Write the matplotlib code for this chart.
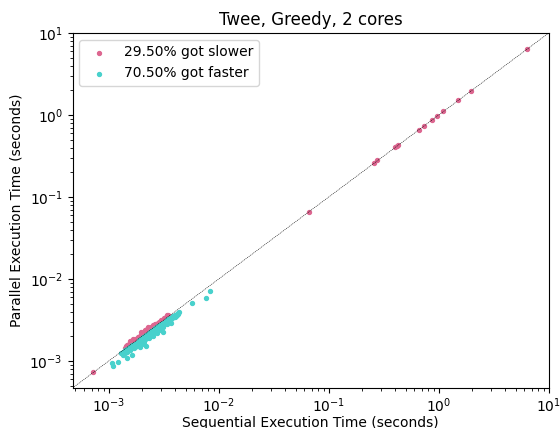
import numpy as np
import matplotlib
matplotlib.use("Agg")
import matplotlib.pyplot as plt

# execution times in milliseconds (sequential, parallel)
faster_seq_ms = [
    1.07, 1.09, 1.23, 1.46, 1.62, 2.20, 3.10, 3.70, 5.70, 7.60, 8.40,
    1.30, 1.35, 1.38, 1.40, 1.42, 1.45, 1.47, 1.50, 1.52, 1.55, 1.55, 1.58,
    1.60, 1.62, 1.65, 1.67, 1.70, 1.70, 1.72, 1.75, 1.78, 1.80, 1.82, 1.85,
    1.85, 1.88, 1.90, 1.92, 1.95, 1.97, 2.00, 2.00, 2.03, 2.05, 2.08, 2.10,
    2.12, 2.15, 2.15, 2.18, 2.20, 2.22, 2.25, 2.28, 2.30, 2.30, 2.33, 2.35,
    2.38, 2.40, 2.40, 2.43, 2.45, 2.48, 2.50, 2.50, 2.53, 2.55, 2.58, 2.60,
    2.62, 2.65, 2.68, 2.70, 2.72, 2.75, 2.78, 2.80, 2.82, 2.85, 2.88, 2.90,
    2.92, 2.95, 2.98, 3.00, 3.03, 3.05, 3.08, 3.10, 3.12, 3.15, 3.18, 3.20,
    3.25, 3.28, 3.30, 3.35, 3.38, 3.40, 3.45, 3.48, 3.50, 3.55, 3.58, 3.62,
    3.65, 3.70, 3.75, 3.80, 3.85, 3.90, 3.95, 4.00, 4.05, 4.10, 4.15, 4.20,
    4.25, 4.30, 4.35, 1.48, 1.58, 1.68, 1.75, 1.88, 1.98, 2.10, 2.35, 2.55,
    2.75, 3.00, 3.40, 2.08, 1.92, 1.35, 1.42,
]
faster_par_ms = [
    0.95, 0.87, 0.97, 1.09, 1.18, 1.52, 2.25, 2.90, 5.10, 5.90, 7.10,
    1.25, 1.28, 1.30, 1.36, 1.33, 1.38, 1.42, 1.40, 1.45, 1.48, 1.38, 1.50,
    1.44, 1.55, 1.52, 1.58, 1.55, 1.45, 1.62, 1.60, 1.52, 1.68, 1.63, 1.72,
    1.58, 1.70, 1.80, 1.66, 1.84, 1.75, 1.90, 1.70, 1.82, 1.95, 1.78, 1.98,
    1.88, 2.02, 1.85, 1.95, 2.08, 1.90, 2.10, 2.00, 2.15, 1.95, 2.05, 2.22,
    2.12, 2.25, 2.05, 2.18, 2.30, 2.20, 2.35, 2.12, 2.28, 2.40, 2.25, 2.45,
    2.32, 2.50, 2.38, 2.55, 2.42, 2.30, 2.60, 2.48, 2.65, 2.55, 2.40, 2.70,
    2.60, 2.75, 2.52, 2.80, 2.68, 2.85, 2.72, 2.58, 2.90, 2.78, 2.95, 2.82,
    3.00, 2.88, 3.05, 2.95, 3.15, 3.02, 3.20, 3.08, 3.25, 3.12, 3.30, 3.20,
    3.38, 3.25, 3.45, 3.32, 3.50, 3.40, 3.58, 3.48, 3.65, 3.55, 3.72, 3.60,
    3.85, 3.75, 3.95, 1.30, 1.35, 1.50, 1.48, 1.60, 1.62, 1.75, 1.90, 2.05,
    2.20, 2.45, 2.80, 1.60, 1.50, 1.20, 1.25,
]

slower_seq_ms = [
    0.72, 1.40, 1.45, 1.48, 1.52, 1.55, 1.58, 1.62, 1.65, 1.70, 1.75, 1.80,
    1.85, 1.88, 1.92, 1.95, 2.00, 2.05, 2.10, 2.15, 2.20, 2.25, 2.30, 2.35,
    2.40, 2.45, 2.50, 2.55, 2.60, 2.65, 2.70, 2.75, 2.80, 2.90, 3.00, 3.10,
    3.20, 3.30, 3.40, 3.50, 1.68, 1.98, 2.28, 1.58, 2.12,
    66.0, 257.0, 277.0, 400.0, 415.0, 430.0, 660.0, 730.0, 870.0, 960.0,
    1100.0, 1500.0, 1950.0, 6400.0,
]
slower_par_ms = [
    0.73, 1.45, 1.52, 1.58, 1.60, 1.65, 1.62, 1.72, 1.70, 1.80, 1.85, 1.88,
    1.98, 1.95, 2.05, 2.10, 2.08, 2.20, 2.18, 2.30, 2.28, 2.45, 2.40, 2.55,
    2.50, 2.62, 2.58, 2.75, 2.70, 2.80, 2.85, 2.82, 2.95, 3.00, 3.15, 3.20,
    3.35, 3.45, 3.60, 3.62, 1.88, 2.25, 2.60, 1.75, 2.40,
    66.5, 259.0, 279.0, 403.0, 418.0, 433.0, 665.0, 735.0, 876.0, 966.0,
    1108.0, 1510.0, 1962.0, 6440.0,
]

labels = ["29.50% got slower", "70.50% got faster"]
lims = [4.7e-4, 10]

fig = plt.figure(figsize=(5.6, 4.28), dpi=100)
ax = fig.add_axes([0.1295, 0.0935, 0.8505, 0.8295])

ax.scatter(np.array(slower_seq_ms) / 1000, np.array(slower_par_ms) / 1000,
           s=8, color="#dd6690", label=labels[0])
ax.scatter(np.array(faster_seq_ms) / 1000, np.array(faster_par_ms) / 1000,
           s=8, color="#48d1cc", label=labels[1])
ax.plot(lims, lims, color="black", linestyle="--", linewidth=0.4, dashes=(2, 1.5))

ax.set_xscale("log")
ax.set_yscale("log")
ax.set_xlim(lims)
ax.set_ylim(lims)
ax.tick_params(axis="x", pad=2.5)
ax.set_xlabel("Sequential Execution Time (seconds)", labelpad=1)
ax.set_ylabel("Parallel Execution Time (seconds)")
ax.set_title("Twee, Greedy, 2 cores")
ax.legend(loc="upper left")

fig.savefig("out.png", dpi=100)
